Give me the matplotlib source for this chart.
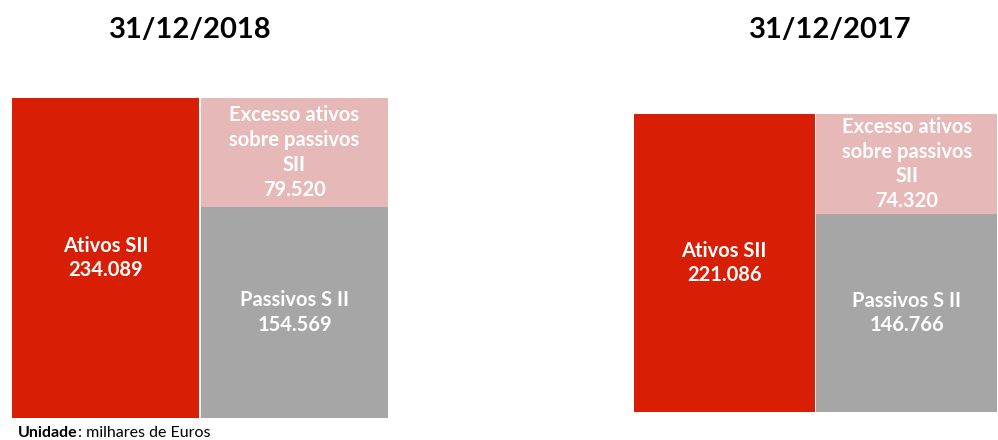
import matplotlib
matplotlib.use('Agg')
import matplotlib.pyplot as plt

plt.rcParams['font.family'] = ['Lato', 'DejaVu Sans']

###############################################################################
# Data (milhares de Euros)
###############################################################################
dates = ['31/12/2018', '31/12/2017']
ativos = [234089, 221086]
excesso = [79520, 74320]
passivos = [154569, 146766]

def fmt(v):
    return f'{v:,}'.replace(',', '.')

(W, H) = (998, 440)
# panel boxes in pixels: (left, right, top, bottom) of the red bar area
panels = [(11, 389, 98, 418), (633, 998, 114, 412)]
titleX = [190, 830]

red, pink, grey = '#D81E05', '#E6B8B7', '#A6A6A6'

fig = plt.figure(figsize=(W/100, H/100), dpi=100)
for i in range(len(dates)):
    (l, r, t, b) = panels[i]
    ax = fig.add_axes([l/W, 1-b/H, (r-l)/W, (b-t)/H])
    ax.bar(0, ativos[i], width=0.99, color=red)
    ax.bar(1, passivos[i], width=0.99, color=grey)
    ax.bar(1, excesso[i], bottom=passivos[i], width=0.99, color=pink)
    ax.set_xlim(-0.5, 1.5)
    ax.set_ylim(0, ativos[i])
    ax.axis('off')
    # labels ------------------------------------------------------------------
    txt = dict(color='white', fontweight='bold', fontsize=14.5,
               ha='center', va='center', linespacing=1.3)
    ax.text(0, ativos[i]/2, f'Ativos SII\n{fmt(ativos[i])}', **txt)
    ax.text(1, passivos[i]/2, f'Passivos S II\n{fmt(passivos[i])}', **txt)
    ax.text(1, passivos[i]+excesso[i]/2,
            f'Excesso ativos\nsobre passivos\nSII\n{fmt(excesso[i])}', **txt)
    fig.text(titleX[i]/W, 1-30/H, dates[i], fontsize=21, fontweight='bold',
             ha='center', va='center', color='black')

# unit note -------------------------------------------------------------------
u = fig.text(18/W, 1-433/H, 'Unidade', fontsize=11.5, fontweight='bold',
             ha='left', va='center')
plt.annotate(': milhares de Euros', xy=(1, 0.5), xycoords=u,
             fontsize=11.5, ha='left', va='center', annotation_clip=False)

plt.savefig('out.png', dpi=100)
